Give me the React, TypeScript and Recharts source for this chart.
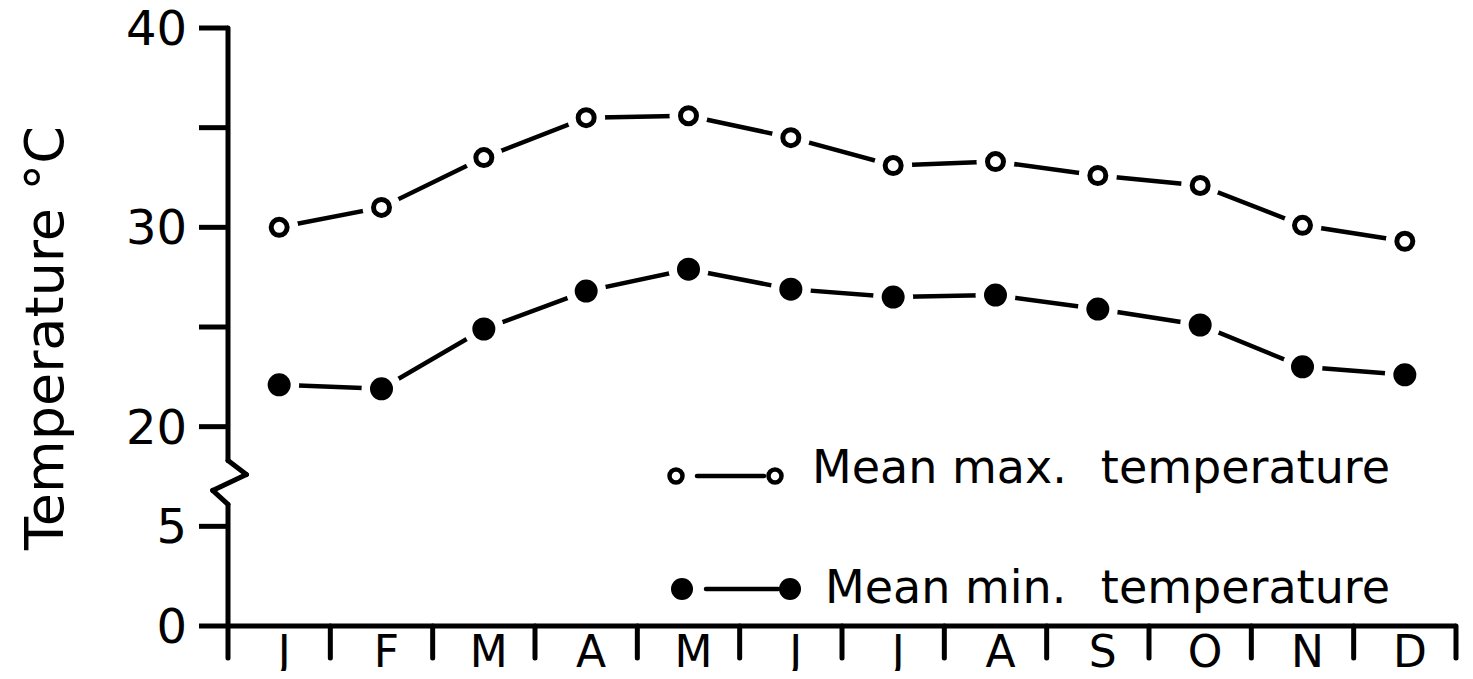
import React from 'react';
import { LineChart, Line, XAxis, YAxis, ReferenceLine, Legend } from 'recharts';

const FONT = '"DejaVu Sans", sans-serif';

const months = ['J', 'F', 'M', 'A', 'M', 'J', 'J', 'A', 'S', 'O', 'N', 'D'];
const meanMax = [30.0, 31.0, 33.5, 35.5, 35.6, 34.5, 33.1, 33.3, 32.6, 32.1, 30.1, 29.3];
const meanMin = [22.1, 21.9, 24.9, 26.8, 27.9, 26.9, 26.5, 26.6, 25.9, 25.1, 23.0, 22.6];
const yTickValues = [0, 5, 20, 25, 30, 35, 40];
const yTickLabels = ['0', '5', '20', '', '30', '', '40'];

// broken axis: 0-5 at true scale, 20-40 pulled down by 10 so the gap 5..20 collapses
const toAxis = (v: number) => (v >= 20 ? v - 10 : v);

const data = months.map((m, i) => ({
  idx: i,
  month: m,
  max: toAxis(meanMax[i]),
  min: toAxis(meanMin[i]),
}));

// y-axis line with the zigzag break, in axis units (x = month index, y = axis value)
const yAxisPath = [
  [-0.5, 0],
  [-0.5, 6.1],
  [-0.65, 6.8],
  [-0.32, 7.6],
  [-0.5, 8.3],
  [-0.5, 30],
];
const boundaries = Array.from({ length: 13 }, (_, k) => k - 0.5);

const OpenDot = (props: any) => {
  const { cx, cy, index } = props;
  return (
    <g key={`o-${index}`}>
      <circle cx={cx} cy={cy} r={19} fill="#fff" />
      <circle cx={cx} cy={cy} r={8} fill="#fff" stroke="#000" strokeWidth={5} />
    </g>
  );
};

const FilledDot = (props: any) => {
  const { cx, cy, index } = props;
  return (
    <g key={`f-${index}`}>
      <circle cx={cx} cy={cy} r={20} fill="#fff" />
      <circle cx={cx} cy={cy} r={11.5} fill="#000" />
    </g>
  );
};

const MonthTick = (props: any) => {
  const { x, y, payload } = props;
  return (
    <text x={x + 5} y={y + 41} textAnchor="middle" fill="#000" fontSize={44} fontFamily={FONT}>
      {months[payload.value]}
    </text>
  );
};

const YLabel = () => (
  <text
    x={63}
    y={338}
    transform="rotate(-90 63 338)"
    textAnchor="middle"
    fill="#000"
    fontSize={54}
    fontFamily={FONT}
  >
    Temperature °C
  </text>
);

const LegendContent = () => (
  <svg width={800} height={190} style={{ display: 'block', overflow: 'visible' }}>
    <line x1={37} y1={38} x2={104} y2={38} stroke="#000" strokeWidth={4.5} strokeLinecap="round" />
    <circle cx={16} cy={38} r={6.5} fill="#fff" stroke="#000" strokeWidth={4.5} />
    <circle cx={115} cy={38} r={6.5} fill="#fff" stroke="#000" strokeWidth={4.5} />
    <text x={152} y={45} fill="#000" fontSize={46} fontFamily={FONT}>Mean max.</text>
    <text x={730} y={45} textAnchor="end" fill="#000" fontSize={46} fontFamily={FONT}>temperature</text>

    <line x1={46} y1={151} x2={118} y2={151} stroke="#000" strokeWidth={4.5} strokeLinecap="round" />
    <circle cx={22} cy={151} r={11} fill="#000" />
    <circle cx={130} cy={151} r={11} fill="#000" />
    <text x={165} y={165} fill="#000" fontSize={46} fontFamily={FONT}>Mean min.</text>
    <text x={730} y={165} textAnchor="end" fill="#000" fontSize={46} fontFamily={FONT}>temperature</text>
  </svg>
);

const axisStroke = { stroke: '#000', strokeWidth: 5, strokeLinecap: 'round' as const };

export default function App() {
  return (
    <div style={{ margin: -8, width: 1473, height: 679, background: '#fff', fontFamily: FONT }}>
      <LineChart width={1473} height={679} data={data} margin={{ top: 28, right: 17, bottom: 0, left: 0 }}>
        <XAxis
          type="number"
          dataKey="idx"
          domain={[-0.5, 11.5]}
          ticks={months.map((_, i) => i)}
          interval={0}
          height={53}
          tickSize={0}
          tickMargin={0}
          tickLine={false}
          axisLine={{ stroke: '#000', strokeWidth: 5 }}
          tick={MonthTick}
        />
        <YAxis
          type="number"
          domain={[0, 30]}
          ticks={yTickValues.map(toAxis)}
          interval={0}
          width={228}
          axisLine={false}
          tickSize={29}
          tickMargin={12}
          tickLine={{ stroke: '#000', strokeWidth: 5 }}
          tick={{ fill: '#000', fontSize: 48, fontFamily: FONT }}
          tickFormatter={(_v: number, i: number) => yTickLabels[i]}
          label={{ content: () => <YLabel /> }}
        />
        {yAxisPath.slice(1).map((p, i) => (
          <ReferenceLine
            key={`ya-${i}`}
            ifOverflow="visible"
            segment={[
              { x: yAxisPath[i][0], y: yAxisPath[i][1] },
              { x: p[0], y: p[1] },
            ]}
            {...axisStroke}
          />
        ))}
        {boundaries.map((b) => (
          <ReferenceLine
            key={`b-${b}`}
            ifOverflow="visible"
            segment={[
              { x: b, y: 0 },
              { x: b, y: -1.6 },
            ]}
            {...axisStroke}
          />
        ))}
        <Line
          type="linear"
          dataKey="max"
          stroke="#000"
          strokeWidth={4.5}
          dot={OpenDot}
          activeDot={false}
          isAnimationActive={false}
        />
        <Line
          type="linear"
          dataKey="min"
          stroke="#000"
          strokeWidth={4.5}
          dot={FilledDot}
          activeDot={false}
          isAnimationActive={false}
        />
        <Legend
          layout="vertical"
          verticalAlign="middle"
          align="center"
          content={LegendContent}
          wrapperStyle={{ top: 438, left: 660, width: 800, height: 190 }}
        />
      </LineChart>
    </div>
  );
}
